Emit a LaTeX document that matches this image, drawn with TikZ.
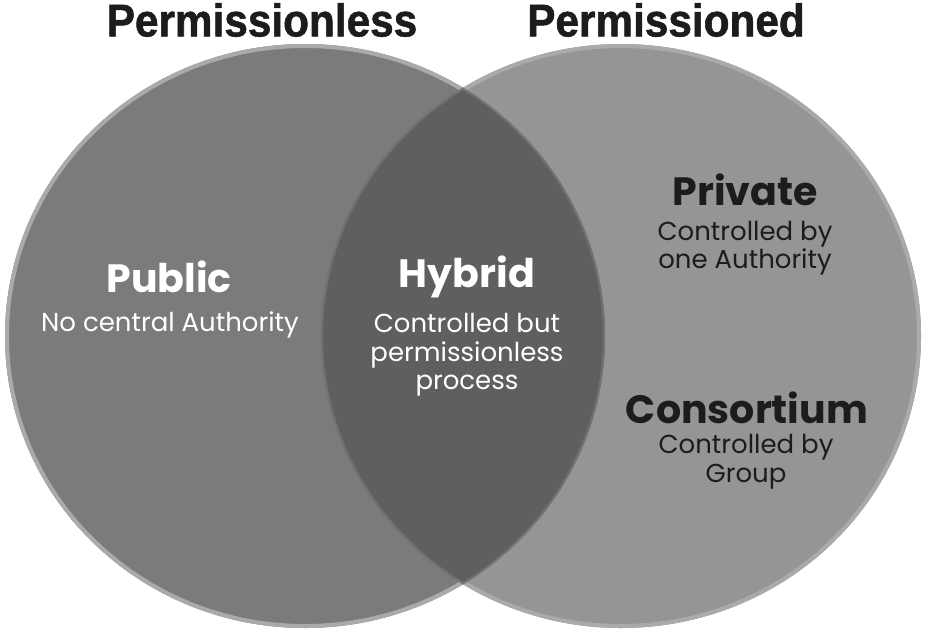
\documentclass[tikz,border=0pt]{standalone}
\usepackage{fontspec}
\setmainfont{Poppins}
\newfontfamily\headfont[FakeStretch=0.92, FakeBold=1.2]{Liberation Sans}
\definecolor{leftgrey}{HTML}{7B7B7E}
\definecolor{rightgrey}{HTML}{959597}
\definecolor{lensgrey}{HTML}{5F5F62}
\definecolor{ringgrey}{HTML}{AAAAAC}
\definecolor{lensline}{HTML}{727275}
\definecolor{inkdark}{HTML}{1C1C1C}
\tikzset{
  heading/.style={font=\headfont\bfseries\fontsize{46}{46}\selectfont, text=inkdark},
  kind/.style={font=\bfseries\fontsize{39.5}{42}\selectfont},
  note/.style={font=\fontsize{26}{28.5}\selectfont, align=center},
  ring/.style={draw=ringgrey, line width=4},
}
\begin{document}
\begin{tikzpicture}[x=1pt, y=-1pt]
      \useasboundingbox (0,0) rectangle (928,632);
      % the two sets
      \fill[leftgrey] (305,336) ellipse [x radius=300, y radius=292];
      \fill[rightgrey] (621,336) ellipse [x radius=300, y radius=292];
      \begin{scope}
        \clip (305,336) ellipse [x radius=300, y radius=292];
        \fill[lensgrey] (621,336) ellipse [x radius=300, y radius=292];
      \end{scope}
      % outer rims
      \begin{scope}[even odd rule]
        \clip (0,0) rectangle (928,632) (621,336) ellipse [x radius=300, y radius=292];
        \draw[ring] (305,336) ellipse [x radius=298, y radius=290];
      \end{scope}
      \begin{scope}[even odd rule]
        \clip (0,0) rectangle (928,632) (305,336) ellipse [x radius=300, y radius=292];
        \draw[ring] (621,336) ellipse [x radius=298, y radius=290];
      \end{scope}
      % rims inside the overlap
      \begin{scope}
        \clip (621,336) ellipse [x radius=300, y radius=292];
        \draw[lensline, line width=2] (305,336) ellipse [x radius=299, y radius=291];
      \end{scope}
      \begin{scope}
        \clip (305,336) ellipse [x radius=300, y radius=292];
        \draw[lensline, line width=2] (621,336) ellipse [x radius=299, y radius=291];
      \end{scope}
      % titles
      \node[heading] (permissionless) at (262,20) {Permissionless};
      \node[heading] (permissioned) at (666,20) {Permissioned};
      % left
      \node[kind, text=white] (public) at (169,277) {Public};
      \node[note, text=white] (publicnote) at (170,325) {No central Authority};
      % middle
      \node[kind, text=white] (hybrid) at (467,277) {Hybrid};
      \node[note, text=white] (hybridnote) at (467,355) {Controlled but\\permissionless\\process};
      % right
      \node[kind, text=inkdark] (private) at (745,190) {Private};
      \node[note, text=inkdark] (privatenote) at (745,248) {Controlled by\\one Authority};
      \node[kind, text=inkdark] (consortium) at (747,408) {Consortium};
      \node[note, text=inkdark] (consortiumnote) at (746,462) {Controlled by\\Group};
    \end{tikzpicture}
\end{document}
